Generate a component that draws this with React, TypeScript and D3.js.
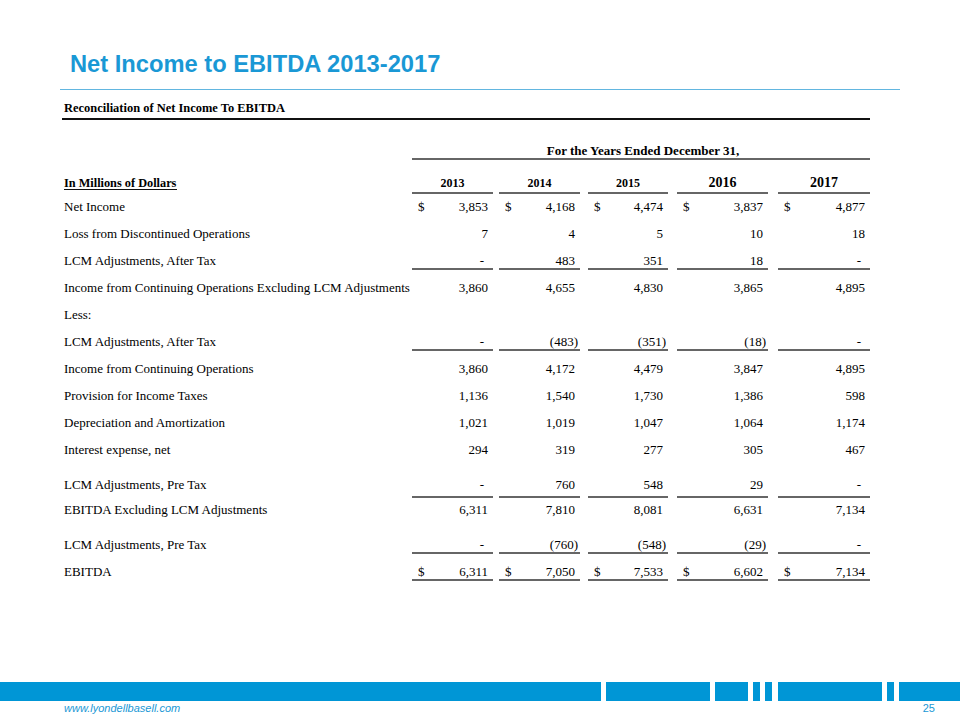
import React from "react";
import * as d3 from "d3";

// ---------- Data ----------
const years = ["2013", "2014", "2015", "2016", "2017"];
const netIncome = [3853, 4168, 4474, 3837, 4877];
const lossDiscontinued = [7, 4, 5, 10, 18];
const lcmAfterTax = [0, 483, 351, 18, 0];
const incomeContExclLcm = [3860, 4655, 4830, 3865, 4895];
const lcmAfterTaxLess = [0, -483, -351, -18, 0];
const incomeCont = [3860, 4172, 4479, 3847, 4895];
const provisionTaxes = [1136, 1540, 1730, 1386, 598];
const depreciation = [1021, 1019, 1047, 1064, 1174];
const interestExpense = [294, 319, 277, 305, 467];
const lcmPreTax = [0, 760, 548, 29, 0];
const ebitdaExclLcm = [6311, 7810, 8081, 6631, 7134];
const lcmPreTaxLess = [0, -760, -548, -29, 0];
const ebitda = [6311, 7050, 7533, 6602, 7134];

const rowLabels = [
  "Net Income",
  "Loss from Discontinued Operations",
  "LCM Adjustments, After Tax",
  "Income from Continuing Operations Excluding LCM Adjustments",
  "Less:",
  "LCM Adjustments, After Tax",
  "Income from Continuing Operations",
  "Provision for Income Taxes",
  "Depreciation and Amortization",
  "Interest expense, net",
  "LCM Adjustments, Pre Tax",
  "EBITDA Excluding LCM Adjustments",
  "LCM Adjustments, Pre Tax",
  "EBITDA",
];
const rowValues: (number[] | null)[] = [
  netIncome,
  lossDiscontinued,
  lcmAfterTax,
  incomeContExclLcm,
  null,
  lcmAfterTaxLess,
  incomeCont,
  provisionTaxes,
  depreciation,
  interestExpense,
  lcmPreTax,
  ebitdaExclLcm,
  lcmPreTaxLess,
  ebitda,
];
const dollarRows = [0, 13];

// ---------- Layout ----------
const colStart = [412, 499, 588, 677, 778];
const colEnd = [493, 580, 668, 768, 870];
const rowExtraGap: Record<number, number> = { 10: 8, 11: -2, 12: 8 };
const ruledRows: Record<number, number> = { 2: 4, 5: 4, 10: 8, 12: 4, 13: 4 };
const footerSegs = [
  [0, 601],
  [606, 710],
  [715, 748],
  [753, 760],
  [765, 772],
  [778, 882],
  [887, 894],
  [899, 960],
];

const BLUE = "#1a98d5";
const SERIF = "'Liberation Serif', 'Times New Roman', serif";
const SANS = "'Liberation Sans', Arial, sans-serif";

export default function App() {
  const x0 = d3.scaleOrdinal<string, number>().domain(years).range(colStart);
  const x1 = d3.scaleOrdinal<string, number>().domain(years).range(colEnd);
  const rowScale = d3.scaleLinear().domain([0, 1]).range([211, 238]);
  const gapCum = rowLabels.map((_, i) =>
    d3.sum(d3.range(i + 1), (k) => rowExtraGap[k] || 0)
  );
  const y = (i: number) => rowScale(i) + gapCum[i];
  const fmt = d3.format(",");
  const fmtVal = (v: number) =>
    v === 0 ? "-" : v < 0 ? `(${fmt(-v)})` : fmt(v);
  const valRight = (v: number, yr: string) =>
    v === 0 ? x1(yr) - 9 : v < 0 ? x1(yr) - 2 : x1(yr) - 5;

  return (
    <svg
      width={960}
      height={720}
      style={{ position: "absolute", left: 0, top: 0, background: "#fff" }}
    >
      {/* Title */}
      <text
        x={70}
        y={72}
        fontFamily={SANS}
        fontWeight="bold"
        fontSize={23.7}
        fill={BLUE}
      >
        Net Income to EBITDA 2013-2017
      </text>
      <line x1={60} x2={900} y1={89.5} y2={89.5} stroke="#62b6e0" strokeWidth={1} />

      {/* Table header */}
      <text
        x={64}
        y={112}
        fontFamily={SERIF}
        fontWeight="bold"
        fontSize={12.5}
        textLength={221}
        lengthAdjust="spacingAndGlyphs"
      >
        Reconciliation of Net Income To EBITDA
      </text>
      <line x1={62} x2={870} y1={119} y2={119} stroke="#111" strokeWidth={2} />

      <text
        x={643}
        y={155}
        textAnchor="middle"
        fontFamily={SERIF}
        fontWeight="bold"
        fontSize={13}
      >
        For the Years Ended December 31,
      </text>
      <line
        x1={colStart[0]}
        x2={colEnd[4]}
        y1={159}
        y2={159}
        stroke="#333"
        strokeWidth={1.5}
      />

      <text x={64} y={187} fontFamily={SERIF} fontWeight="bold" fontSize={12.3}>
        In Millions of Dollars
      </text>
      <line x1={64} x2={177} y1={189.5} y2={189.5} stroke="#111" strokeWidth={1} />

      {years.map((yr, i) => (
        <g key={yr}>
          <text
            x={(x0(yr) + x1(yr)) / 2}
            y={187}
            textAnchor="middle"
            fontFamily={SERIF}
            fontWeight="bold"
            fontSize={i >= 3 ? 14 : 12}
          >
            {yr}
          </text>
          <line
            x1={x0(yr)}
            x2={x1(yr)}
            y1={193}
            y2={193}
            stroke="#333"
            strokeWidth={1.5}
          />
        </g>
      ))}

      {/* Rows */}
      {rowLabels.map((label, i) => {
        const vals = rowValues[i];
        const yy = y(i);
        return (
          <g key={i}>
            <text x={64} y={yy} fontFamily={SERIF} fontSize={13} fill="#000">
              {label}
            </text>
            {vals &&
              years.map((yr, j) => (
                <g key={yr}>
                  {dollarRows.includes(i) && (
                    <text
                      x={x0(yr) + 6}
                      y={yy}
                      fontFamily={SERIF}
                      fontSize={13}
                    >
                      $
                    </text>
                  )}
                  <text
                    x={valRight(vals[j], yr)}
                    y={yy}
                    textAnchor="end"
                    fontFamily={SERIF}
                    fontSize={13}
                  >
                    {fmtVal(vals[j])}
                  </text>
                  {ruledRows[i] !== undefined && (
                    <line
                      x1={x0(yr)}
                      x2={x1(yr)}
                      y1={yy + ruledRows[i]}
                      y2={yy + ruledRows[i]}
                      stroke="#333"
                      strokeWidth={1.5}
                    />
                  )}
                </g>
              ))}
          </g>
        );
      })}

      {/* Footer */}
      {footerSegs.map(([a, b], i) => (
        <rect key={i} x={a} y={682} width={b - a} height={19} fill="#0096d6" />
      ))}
      <text
        x={64}
        y={712}
        fontFamily={SANS}
        fontStyle="italic"
        fontSize={11}
        fill={BLUE}
      >
        www.lyondellbasell.com
      </text>
      <text
        x={935}
        y={712}
        textAnchor="end"
        fontFamily={SANS}
        fontSize={11}
        fill={BLUE}
      >
        25
      </text>
    </svg>
  );
}
